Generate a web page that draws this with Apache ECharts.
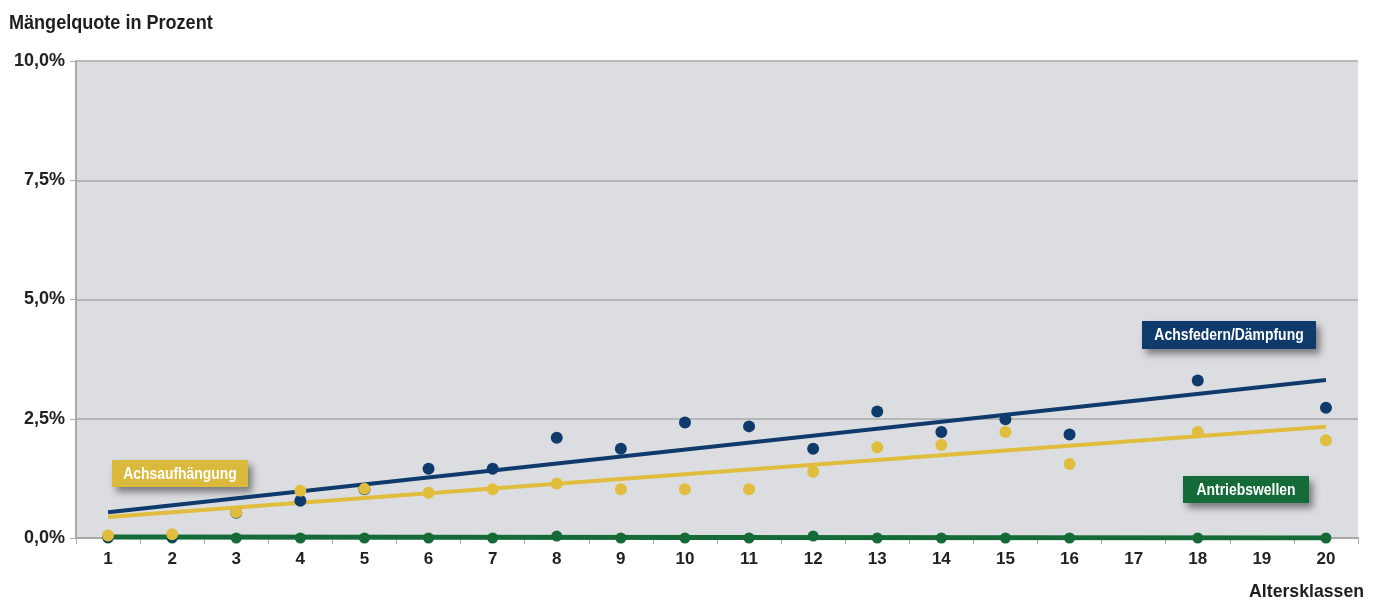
<!DOCTYPE html>
<html><head><meta charset="utf-8">
<script src="https://cdn.jsdelivr.net/npm/echarts@6/dist/echarts.min.js"></script>
<style>html,body{margin:0;padding:0;background:#fff}#c{width:1378px;height:602px}</style>
</head><body><div id="c"></div>
<script>
const categories = ['1','2','3','4','5','6','7','8','9','10','11','12','13','14','15','16','17','18','19','20'];
const yTicks = [0, 2.5, 5, 7.5, 10];
// Mängelquote in %, '-' = kein Wert
const achsfedern = [0.02,0.03,0.53,0.78,1.02,1.45,1.45,2.10,1.87,2.42,2.34,1.87,2.65,2.22,2.49,2.17,'-',3.30,'-',2.73];
const achsaufhaengung = [0.05,0.08,0.54,0.99,1.03,0.95,1.02,1.14,1.02,1.02,1.02,1.39,1.90,1.95,2.22,1.55,'-',2.22,'-',2.05];
const antriebswellen = [0,0,0,0,0,0,0,0.04,0,0,0,0.04,0,0,0,0,'-',0,'-',0];
// Trendlinien: Wert bei Altersklasse 1 und 20
const trendAchsfedern = [0.54, 3.31];
const trendAchsaufhaengung = [0.44, 2.33];
const trendAntriebswellen = [0.02, 0.0];

const NAVY = '#0f3a6c', YEL = '#e0bd3c', GRN = '#146b37';
const sans = '"Liberation Sans",Arial,sans-serif';
const chart = echarts.init(document.getElementById('c'), null, {renderer:'canvas'});
function trend(v){ return [[categories[0], v[0]], [categories[categories.length-1], v[1]]]; }
function box(x,y,w,h,fill,text){
  return {type:'group', left:x, top:y, z:100, children:[
    {type:'rect', shape:{x:0,y:0,width:w,height:h}, style:{fill:fill, shadowBlur:7, shadowOffsetX:4, shadowOffsetY:5, shadowColor:'rgba(0,0,0,0.45)'}},
    {type:'text', x:w/2, y:h/2+1, scaleX:0.87, style:{text:text, fill:'#fff', font:'bold 16px '+sans, align:'center', verticalAlign:'middle'}}
  ]};
}
chart.setOption({
  animation:false,
  grid:{left:76, right:20, top:61, bottom:64, show:true, backgroundColor:'#dcdde0', borderWidth:0},
  xAxis:{type:'category', data:categories, boundaryGap:true,
    axisLine:{lineStyle:{color:'#a9a9a9', width:2}},
    axisTick:{show:true, length:6, lineStyle:{color:'#a9a9a9', width:1}},
    axisLabel:{fontFamily:sans, fontWeight:'bold', fontSize:17, color:'#222', margin:13},
    splitLine:{show:false}},
  yAxis:{type:'value', min:yTicks[0], max:yTicks[yTicks.length-1], interval:2.5,
    axisLine:{show:true, lineStyle:{color:'#a9a9a9', width:2}},
    axisTick:{show:true, length:6, lineStyle:{color:'#a9a9a9'}},
    axisLabel:{fontFamily:sans, fontWeight:'bold', fontSize:18, color:'#222', margin:11,
      formatter:v=>v.toFixed(1).replace('.',',')+'%'},
    splitLine:{show:true, lineStyle:{color:'#a8a8a8', width:1.5}}},
  series:[
    {type:'line', data:trend(trendAntriebswellen), symbol:'none', lineStyle:{color:GRN, width:5}, z:2},
    {type:'line', data:trend(trendAchsaufhaengung), symbol:'none', lineStyle:{color:YEL, width:4}, z:2},
    {type:'line', data:trend(trendAchsfedern), symbol:'none', lineStyle:{color:NAVY, width:4}, z:2},
    {type:'scatter', data:antriebswellen, symbolSize:11, itemStyle:{color:GRN, opacity:1}, z:3},
    {type:'scatter', data:achsfedern, symbolSize:12, itemStyle:{color:NAVY, opacity:1}, z:4},
    {type:'scatter', data:achsaufhaengung, symbolSize:12, itemStyle:{color:YEL, opacity:1}, z:5}
  ],
  graphic:[
    {type:'text', left:9, top:13, scaleX:0.86, style:{text:'Mängelquote in Prozent', fill:'#1e1e1e', font:'bold 21px '+sans}},
    box(1142,321,174,28,NAVY,'Achsfedern/Dämpfung'),
    box(112,460,136,27,'#dbb93c','Achsaufhängung'),
    box(1183,476,126,27,GRN,'Antriebswellen'),
    {type:'text', right:14, top:582, scaleX:0.93, style:{text:'Altersklassen', fill:'#1e1e1e', font:'bold 19px '+sans}}
  ]
});
</script></body></html>
